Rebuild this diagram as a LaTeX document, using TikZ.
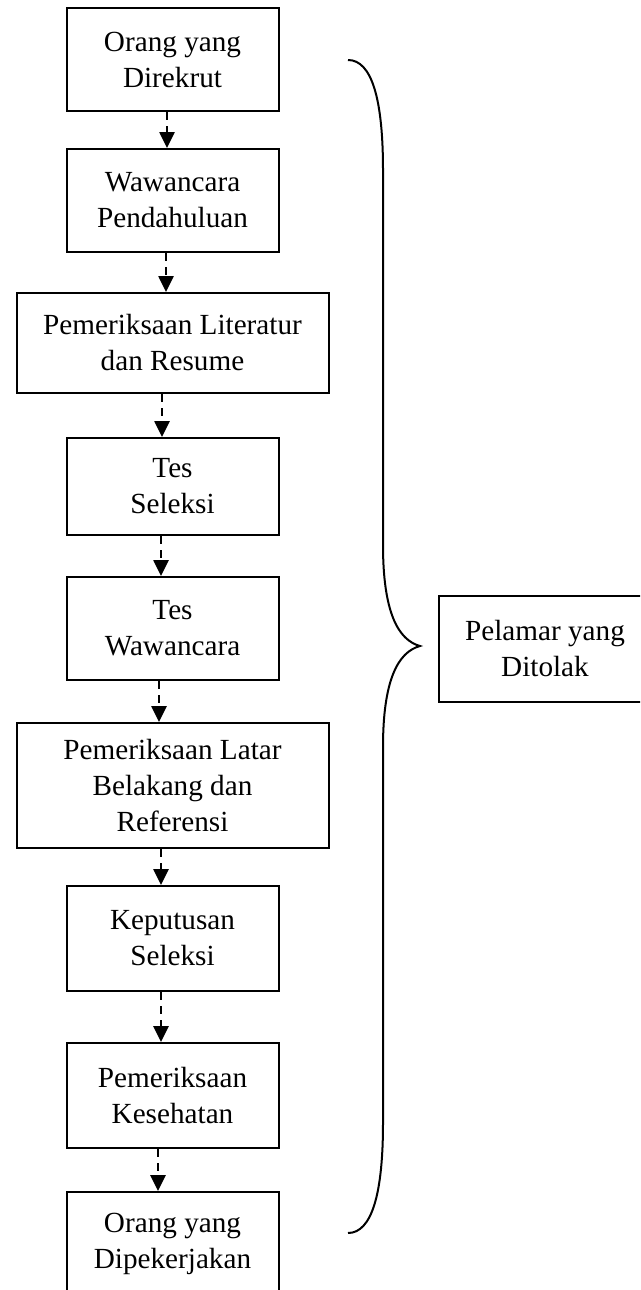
\documentclass[tikz,border=0pt]{standalone}
\usepackage{fontspec}
\setmainfont{Liberation Serif}
\usepackage{tikz}
\usetikzlibrary{arrows.meta}

\begin{document}
\begin{tikzpicture}[x=1pt, y=-1pt,
				box/.style={draw, line width=2pt, align=center, inner sep=0pt, minimum width=212pt},
				flow/.style={-{Triangle[length=16pt, width=15pt]}, line width=2.6pt, dash pattern=on 8pt off 6pt},
				>=latex,   %Pfeilspitzen
				font=\fontsize{29.2}{36}\selectfont]
				%Bildbereich
				\useasboundingbox (0,0) rectangle (640,1290);
				\clip (0,0) rectangle (640,1290);
				% Kaesten der Auswahl
				\node[box, minimum height=103pt] (b1) at (172.5,59.5) {Orang yang\\Direkrut};
				\node[box, minimum height=103pt] (b2) at (172.5,200.5) {Wawancara\\Pendahuluan};
				\node[box, minimum height=100pt, minimum width=312pt] (b3) at (172.5,343) {Pemeriksaan Literatur\\dan Resume};
				\node[box, minimum height=97pt] (b4) at (172.5,486.5) {Tes\\Seleksi};
				\node[box, minimum height=103pt] (b5) at (172.5,628.5) {Tes\\Wawancara};
				\node[box, minimum height=125pt, minimum width=312pt] (b6) at (172.5,785.5) {Pemeriksaan Latar\\Belakang dan\\Referensi};
				\node[box, minimum height=105pt] (b7) at (172.5,938.5) {Keputusan\\Seleksi};
				\node[box, minimum height=105pt] (b8) at (172.5,1095.5) {Pemeriksaan\\Kesehatan};
				\node[box, minimum height=103pt] (b9) at (172.5,1243.5) {Orang yang\\Dipekerjakan};
				% Abgelehnte
				\node[box, minimum height=106pt] (tolak) at (545,649) {Pelamar yang\\Ditolak};
				% Pfeile zeichnen
				\foreach \a/\b/\dx in {b1/b2/-5.5, b2/b3/-6.5, b3/b4/-10.5, b4/b5/-11.5, b5/b6/-13.5, b6/b7/-11.5, b7/b8/-11.5, b8/b9/-14.5}
					\draw[flow] ([xshift=\dx pt]\a.south) -- ([xshift=\dx pt]\b.north);
				% Klammer
				\draw[line width=2pt] (348,60) .. controls (372,60) and (383,100) .. (383,170)
					-- (383,545) .. controls (383,612) and (398,640) .. (420,646)
					.. controls (398,652) and (383,680) .. (383,747)
					-- (383,1123) .. controls (383,1193) and (372,1233) .. (348,1233);
			\end{tikzpicture}
\end{document}
